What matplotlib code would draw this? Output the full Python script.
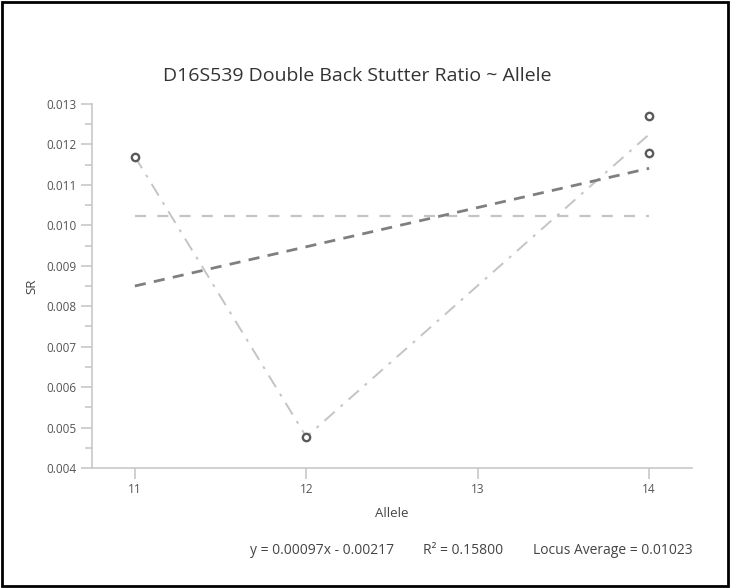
import matplotlib
matplotlib.use("Agg")
import matplotlib.pyplot as plt
from matplotlib.patches import Rectangle
from matplotlib.ticker import MultipleLocator

plt.rcParams['font.family'] = ['Open Sans', 'DejaVu Sans']

# Data
alleles = [11, 12, 14, 14]
ratios = [0.0117, 0.00477, 0.0127, 0.0118]
mean_alleles = [11, 12, 14]
mean_ratios = [0.0117, 0.00477, 0.01225]
slope = 0.00097
intercept = -0.00217
r_squared = 0.15800
locus_average = 0.01023
title = "D16S539 Double Back Stutter Ratio ~ Allele"

W, H = 730, 588
fig = plt.figure(figsize=(W / 100, H / 100), dpi=100)
ax = fig.add_axes([92 / W, (H - 468) / H, (692 - 92) / W, (468 - 104) / H])

# per-allele mean line
ax.plot(mean_alleles, mean_ratios, color='#c4c4c4', lw=1.4,
        dashes=[7, 4, 1.5, 4], zorder=2)
# locus average
ax.plot([11, 14], [locus_average, locus_average], color='#c4c4c4', lw=1.6,
        dashes=[5, 5], zorder=2)
# regression
xs = [11, 14]
ax.plot(xs, [slope * x + intercept for x in xs], color='#7f7f7f', lw=2,
        dashes=[4, 3], zorder=3)
# points
ax.scatter(alleles, ratios, s=28, facecolors='white', edgecolors='#5a5a5a',
           linewidths=1.7, zorder=4)

ax.set_xlim(10.75, 14.25)
ax.set_ylim(0.004, 0.013)
ax.set_xticks([11, 12, 13, 14])
ax.yaxis.set_major_locator(MultipleLocator(0.001))
ax.yaxis.set_minor_locator(MultipleLocator(0.0005))
ax.yaxis.set_major_formatter(matplotlib.ticker.FormatStrFormatter('%.3f'))

for s in ['top', 'right']:
    ax.spines[s].set_visible(False)
for s in ['left', 'bottom']:
    ax.spines[s].set_color('#c8c8c8')
    ax.spines[s].set_linewidth(1.2)
ax.tick_params(axis='both', which='major', length=8, width=1.2, color='#c8c8c8',
               labelsize=8.5, labelcolor='#555555', pad=3)
ax.tick_params(axis='y', which='minor', length=5, width=1.2, color='#c8c8c8')

ax.set_xlabel('Allele', fontsize=9.5, color='#444444', labelpad=8)
ax.set_ylabel('SR', fontsize=9.5, color='#444444', labelpad=6)

fig.text(357 / W, 1 - 76 / H, title, ha='center', va='center', fontsize=14,
         color='#333333')

fy = 1 - 554 / H
fig.text(250 / W, fy, f"y = {slope:.5f}x - {abs(intercept):.5f}", ha='left',
         va='baseline', fontsize=10, color='#444444')
fig.text(423 / W, fy, f"R\u00b2 = {r_squared:.5f}", ha='left', va='baseline',
         fontsize=10, color='#444444')
fig.text(693 / W, fy, f"Locus Average = {locus_average:.5f}", ha='right',
         va='baseline', fontsize=10, color='#444444')

fig.patches.append(Rectangle((2 / W, 2 / H), (W - 4) / W, (H - 4) / H,
                             transform=fig.transFigure, fill=False,
                             edgecolor='black', lw=2))

fig.savefig('out.png', dpi=100)
